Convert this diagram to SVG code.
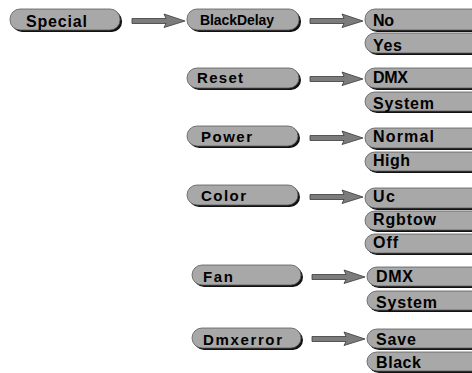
<svg xmlns="http://www.w3.org/2000/svg" width="472" height="373" viewBox="0 0 472 373">
<style>
.sh{fill:#111}
.pill{fill:#a8a8a8;stroke:#5a5a5a;stroke-width:0.8}
.t{font-family:"Liberation Sans",Arial,sans-serif;font-weight:bold;fill:#000}
.m{font-size:15px}
.s{font-size:14px}
.r{font-size:16px}
.arr{fill:#7c7c7c;stroke:#3a3a3a;stroke-width:0.8;stroke-linejoin:round}
</style>
<defs>
<path id="a" class="arr" d="M-53,-2.5 H-19 L-21,-7 L0,0 L-21,6.5 L-19,2.5 H-53 Z"/>
</defs>
<rect width="472" height="373" fill="#fff"/>
<g id="connectors">
<use href="#a" x="185" y="21"/>
<use href="#a" x="363" y="21"/>
<use href="#a" x="363" y="79"/>
<use href="#a" x="363" y="138"/>
<use href="#a" x="363" y="197"/>
<use href="#a" x="365" y="277"/>
<use href="#a" x="365" y="339"/>
</g>
<g id="special">
<rect class="sh" x="12" y="11" width="110" height="21" rx="10"/>
<rect class="pill" x="10" y="9" width="110" height="21" rx="10"/>
<text class="t r" x="26" y="27" textLength="61" lengthAdjust="spacing">Special</text>
</g>
<g id="blackdelay">
<rect class="sh" x="189" y="11" width="112" height="21" rx="10"/>
<rect class="pill" x="187" y="9" width="112" height="21" rx="10"/>
<text class="t s" x="200" y="25" textLength="74" lengthAdjust="spacing">BlackDelay</text>
</g>
<g id="reset">
<rect class="sh" x="189" y="70" width="112" height="20" rx="10"/>
<rect class="pill" x="187" y="68" width="112" height="20" rx="10"/>
<text class="t m" x="197" y="83" textLength="46" lengthAdjust="spacing">Reset</text>
</g>
<g id="power">
<rect class="sh" x="189" y="128" width="111" height="20" rx="10"/>
<rect class="pill" x="187" y="126" width="111" height="20" rx="10"/>
<text class="t m" x="201" y="142" textLength="51" lengthAdjust="spacing">Power</text>
</g>
<g id="color">
<rect class="sh" x="189" y="187" width="111" height="20" rx="10"/>
<rect class="pill" x="187" y="185" width="111" height="20" rx="10"/>
<text class="t m" x="201" y="201" textLength="45" lengthAdjust="spacing">Color</text>
</g>
<g id="fan">
<rect class="sh" x="194" y="267" width="109" height="20" rx="10"/>
<rect class="pill" x="192" y="265" width="109" height="20" rx="10"/>
<text class="t m" x="203" y="282" textLength="30" lengthAdjust="spacing">Fan</text>
</g>
<g id="dmxerror">
<rect class="sh" x="194" y="330" width="109" height="20" rx="10"/>
<rect class="pill" x="192" y="328" width="109" height="20" rx="10"/>
<text class="t m" x="203" y="345" textLength="79" lengthAdjust="spacing">Dmxerror</text>
</g>
<g id="no">
<rect class="sh" x="367" y="11" width="120" height="21" rx="10"/>
<rect class="pill" x="365" y="9" width="120" height="21" rx="10"/>
<text class="t r" x="373" y="26" textLength="21" lengthAdjust="spacing">No</text>
</g>
<g id="yes">
<rect class="sh" x="367" y="35" width="120" height="20" rx="10"/>
<rect class="pill" x="365" y="33" width="120" height="20" rx="10"/>
<text class="t r" x="373" y="51" textLength="29" lengthAdjust="spacing">Yes</text>
</g>
<g id="dmx1">
<rect class="sh" x="367" y="70" width="120" height="20" rx="10"/>
<rect class="pill" x="365" y="68" width="120" height="20" rx="10"/>
<text class="t r" x="373" y="83" textLength="35" lengthAdjust="spacing">DMX</text>
</g>
<g id="system1">
<rect class="sh" x="367" y="94" width="120" height="19" rx="10"/>
<rect class="pill" x="365" y="92" width="120" height="19" rx="10"/>
<text class="t r" x="373" y="109" textLength="61" lengthAdjust="spacing">System</text>
</g>
<g id="normal">
<rect class="sh" x="367" y="130" width="120" height="20" rx="10"/>
<rect class="pill" x="365" y="128" width="120" height="20" rx="10"/>
<text class="t r" x="373" y="142" textLength="61" lengthAdjust="spacing">Normal</text>
</g>
<g id="high">
<rect class="sh" x="367" y="154" width="120" height="19" rx="10"/>
<rect class="pill" x="365" y="152" width="120" height="19" rx="10"/>
<text class="t r" x="373" y="166" textLength="37" lengthAdjust="spacing">High</text>
</g>
<g id="uc">
<rect class="sh" x="367" y="190" width="120" height="20" rx="10"/>
<rect class="pill" x="365" y="188" width="120" height="20" rx="10"/>
<text class="t r" x="373" y="202" textLength="22" lengthAdjust="spacing">Uc</text>
</g>
<g id="rgbtow">
<rect class="sh" x="367" y="213" width="120" height="19" rx="10"/>
<rect class="pill" x="365" y="211" width="120" height="19" rx="10"/>
<text class="t r" x="373" y="225" textLength="63" lengthAdjust="spacing">Rgbtow</text>
</g>
<g id="off">
<rect class="sh" x="367" y="236" width="120" height="19" rx="10"/>
<rect class="pill" x="365" y="234" width="120" height="19" rx="10"/>
<text class="t r" x="373" y="248" textLength="25" lengthAdjust="spacing">Off</text>
</g>
<g id="dmx2">
<rect class="sh" x="369" y="269" width="120" height="19" rx="10"/>
<rect class="pill" x="367" y="267" width="120" height="19" rx="10"/>
<text class="t r" x="376" y="282" textLength="37" lengthAdjust="spacing">DMX</text>
</g>
<g id="system2">
<rect class="sh" x="369" y="293" width="120" height="19" rx="10"/>
<rect class="pill" x="367" y="291" width="120" height="19" rx="10"/>
<text class="t r" x="376" y="308" textLength="61" lengthAdjust="spacing">System</text>
</g>
<g id="save">
<rect class="sh" x="369" y="331" width="120" height="19" rx="10"/>
<rect class="pill" x="367" y="329" width="120" height="19" rx="10"/>
<text class="t r" x="376" y="345" textLength="40" lengthAdjust="spacing">Save</text>
</g>
<g id="black">
<rect class="sh" x="369" y="354" width="120" height="19" rx="10"/>
<rect class="pill" x="367" y="352" width="120" height="19" rx="10"/>
<text class="t r" x="376" y="368" textLength="45" lengthAdjust="spacing">Black</text>
</g>
</svg>
